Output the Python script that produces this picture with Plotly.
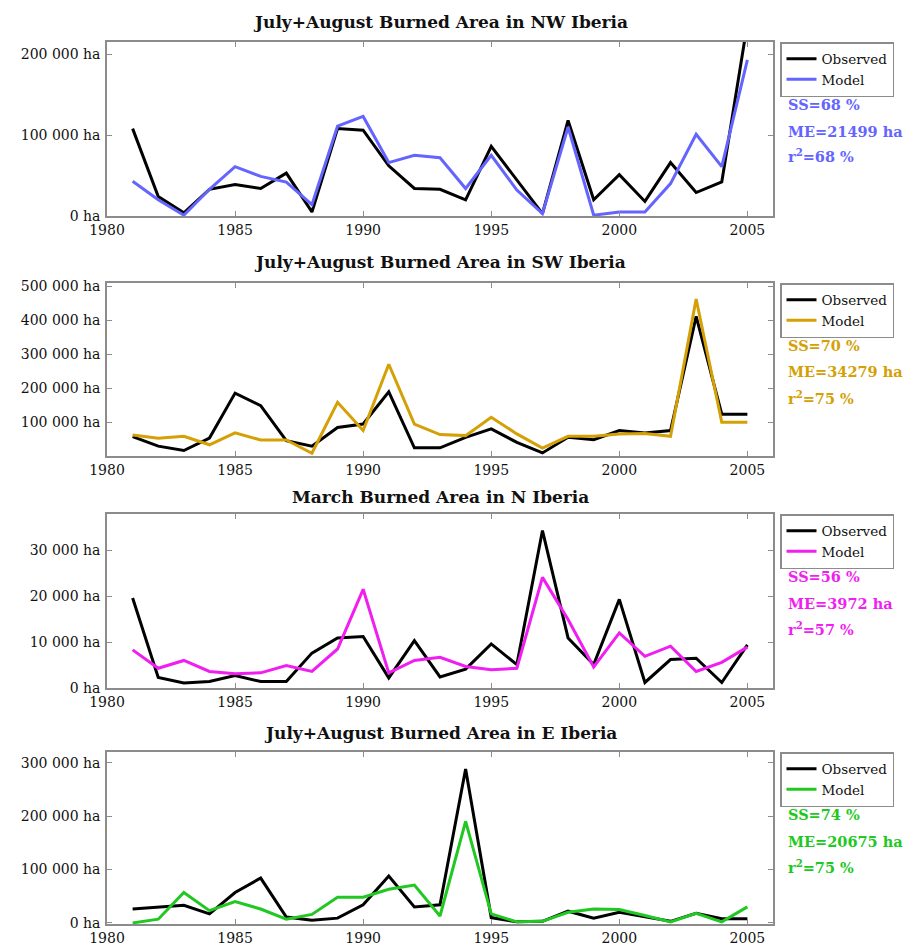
import plotly.graph_objects as go

years = list(range(1981, 2006))

nw_obs = [108000, 24000, 4000, 33000, 39000, 34000, 53000, 5000, 108000, 106000, 62000, 34000, 33000, 20000,
          86000, 44000, 3000, 118000, 20000, 51000, 18000, 66000, 29000, 42000, 238000]
nw_mod = [43000, 20000, 1000, 33000, 61000, 49000, 42000, 14000, 111000, 123000, 66000, 75000, 72000, 34000,
          75000, 32000, 3000, 110000, 1000, 5000, 5000, 40000, 101000, 61000, 193000]

sw_obs = [57000, 29000, 16000, 53000, 185000, 148000, 45000, 29000, 84000, 94000, 189000, 24000, 24000, 55000,
          80000, 40000, 9000, 55000, 48000, 75000, 68000, 75000, 411000, 123000, 123000]
sw_mod = [62000, 52000, 58000, 33000, 68000, 47000, 47000, 8000, 158000, 75000, 270000, 94000, 63000, 60000,
          114000, 65000, 23000, 58000, 58000, 65000, 66000, 58000, 462000, 99000, 99000]

n_obs = [19600, 2300, 1100, 1400, 2700, 1400, 1400, 7600, 10900, 11200, 2200, 10300, 2400, 4100,
         9600, 5100, 34300, 10900, 5100, 19300, 1200, 6200, 6500, 1200, 9400]
n_mod = [8300, 4300, 6000, 3600, 3100, 3300, 4900, 3600, 8500, 21500, 3300, 6000, 6700, 4700,
         4000, 4300, 24100, 14900, 4600, 12000, 6900, 9100, 3600, 5600, 8900]

e_obs = [26000, 30000, 33000, 17000, 57000, 84000, 11000, 5000, 9000, 34000, 88000, 30000, 34000, 288000,
         10000, 2000, 3000, 22000, 9000, 20000, 11000, 3000, 18000, 8000, 8000]
e_mod = [0, 7000, 57000, 23000, 40000, 26000, 7000, 16000, 48000, 48000, 63000, 71000, 13000, 190000,
         17000, 2000, 3000, 20000, 26000, 25000, 14000, 2000, 18000, 2000, 30000]

titles = ["July+August Burned Area in NW Iberia", "July+August Burned Area in SW Iberia",
          "March Burned Area in N Iberia", "July+August Burned Area in E Iberia"]
model_colors = ["#6464ff", "#d4a005", "#f01ef0", "#22c822"]
stats = [["SS=68 %", "ME=21499 ha", "r<sup>2</sup>=68 %"],
         ["SS=70 %", "ME=34279 ha", "r<sup>2</sup>=75 %"],
         ["SS=56 %", "ME=3972 ha", "r<sup>2</sup>=57 %"],
         ["SS=74 %", "ME=20675 ha", "r<sup>2</sup>=75 %"]]
ytickvals = [[0, 100000, 200000],
             [100000, 200000, 300000, 400000, 500000],
             [0, 10000, 20000, 30000],
             [0, 100000, 200000, 300000]]
yticktext = [["0 ha", "100 000 ha", "200 000 ha"],
             ["100 000 ha", "200 000 ha", "300 000 ha", "400 000 ha", "500 000 ha"],
             ["0 ha", "10 000 ha", "20 000 ha", "30 000 ha"],
             ["0 ha", "100 000 ha", "200 000 ha", "300 000 ha"]]
yranges = [[0, 215000], [0, 509000], [0, 37900], [-2000, 320000]]
obs_series = [nw_obs, sw_obs, n_obs, e_obs]
mod_series = [nw_mod, sw_mod, n_mod, e_mod]

W, H = 910, 945


def fx(px):
    return px / W


def fy(py):
    return 1 - py / H


px_left, px_right = 107, 773
panel_tops = [42, 283, 514, 752]
panel_bottoms = [216, 456, 688, 924]
title_y = [22, 262, 497, 733]

SERIF = "DejaVu Serif"
fig = go.Figure()
annotations = []
for i in range(4):
    ax = "" if i == 0 else str(i + 1)
    lg = "legend" if i == 0 else f"legend{i + 1}"
    fig.add_trace(go.Scatter(x=years, y=obs_series[i], mode="lines", name="Observed",
                             line=dict(color="black", width=3), xaxis=f"x{ax}", yaxis=f"y{ax}",
                             legend=lg))
    fig.add_trace(go.Scatter(x=years, y=mod_series[i], mode="lines", name="Model",
                             line=dict(color=model_colors[i], width=3), xaxis=f"x{ax}", yaxis=f"y{ax}",
                             legend=lg))
    axis_common = dict(showgrid=False, zeroline=False, showline=True, linecolor="#8c8c8c",
                       linewidth=1.5, mirror="ticks", ticks="inside", ticklen=5,
                       tickcolor="#8c8c8c", tickwidth=1.2, automargin=False,
                       tickfont=dict(family=SERIF, size=14, color="#111"))
    fig.layout[f"xaxis{ax}"] = dict(domain=[fx(px_left), fx(px_right)], range=[1980, 2006],
                                    tickvals=[1980, 1985, 1990, 1995, 2000, 2005],
                                    anchor=f"y{ax}", ticklabelstandoff=0, **axis_common)
    fig.layout[f"yaxis{ax}"] = dict(domain=[fy(panel_bottoms[i]), fy(panel_tops[i])], range=yranges[i],
                                    tickvals=ytickvals[i], ticktext=yticktext[i], anchor=f"x{ax}",
                                    ticklabelstandoff=2, **axis_common)
    fig.layout[lg] = dict(x=fx(780), y=fy(panel_tops[i]), xanchor="left", yanchor="top",
                          bgcolor="white", bordercolor="#8c8c8c", borderwidth=1.5,
                          font=dict(family=SERIF, size=13.5, color="#111"),
                          tracegroupgap=0, itemwidth=30)
    annotations.append(dict(text=f"<b>{titles[i]}</b>", x=fx((px_left + px_right) / 2),
                            y=fy(title_y[i]), xref="paper", yref="paper", showarrow=False,
                            xanchor="center", yanchor="middle",
                            font=dict(family=SERIF, size=17, color="#111")))
    for j, s in enumerate(stats[i]):
        off = [62, 89, 114][j]
        annotations.append(dict(text=f"<b>{s}</b>", x=fx(786), y=fy(panel_tops[i] + off),
                                xref="paper", yref="paper", showarrow=False,
                                xanchor="left", yanchor="middle",
                                font=dict(family=SERIF, size=14.5, color=model_colors[i])))

fig.update_layout(width=W, height=H, margin=dict(l=0, r=0, t=0, b=0),
                  plot_bgcolor="white", paper_bgcolor="white",
                  annotations=annotations, showlegend=True)

fig.write_html("out.html", config={"displayModeBar": False},
               post_script="document.body.style.margin='0';document.body.style.overflow='hidden';")
